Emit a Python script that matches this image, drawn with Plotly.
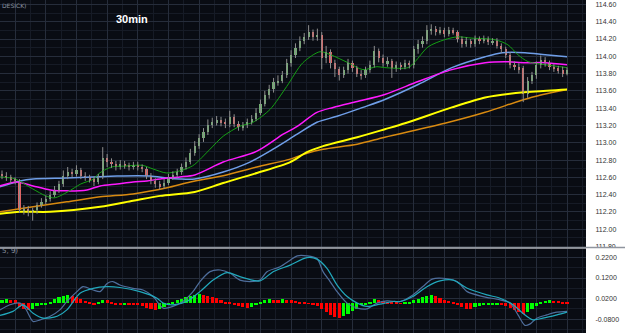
import plotly.graph_objects as go

# ---------------- data ----------------
opens = [112.64,112.62,112.60,112.57,112.56,112.22,112.24,112.20,112.22,112.28,
         112.32,112.35,112.40,112.45,112.52,112.62,112.66,112.64,112.68,112.62,
         112.60,112.58,112.55,112.60,112.82,112.78,112.76,112.72,112.75,112.74,
         112.72,112.74,112.72,112.70,112.62,112.56,112.52,112.50,112.54,112.60,
         112.63,112.66,112.72,112.78,112.88,112.96,113.05,113.12,113.20,113.24,
         113.26,113.24,113.22,113.30,113.22,113.18,113.20,113.24,113.28,113.35,
         113.45,113.55,113.62,113.70,113.72,113.78,113.92,114.02,114.10,114.18,
         114.22,114.28,114.22,114.25,113.98,114.05,113.92,113.85,113.78,113.84,
         113.92,113.86,113.80,113.78,113.84,113.90,114.06,113.98,113.92,113.94,
         113.86,113.90,113.88,113.92,113.90,114.08,114.14,114.18,114.30,114.32,
         114.28,114.30,114.26,114.30,114.28,114.20,114.14,114.18,114.14,114.20,
         114.18,114.20,114.16,114.18,114.12,114.08,114.02,113.90,113.88,113.86,
         113.56,113.72,113.78,113.90,113.96,113.92,113.88,113.86,113.84,113.80]
closes = [112.62,112.60,112.57,112.56,112.22,112.24,112.20,112.22,112.28,112.32,
          112.35,112.40,112.45,112.52,112.62,112.66,112.64,112.68,112.62,112.60,
          112.58,112.55,112.60,112.82,112.78,112.76,112.72,112.75,112.74,112.72,
          112.74,112.72,112.70,112.62,112.56,112.52,112.50,112.54,112.60,112.63,
          112.66,112.72,112.78,112.88,112.96,113.05,113.12,113.20,113.24,113.26,
          113.24,113.22,113.30,113.22,113.18,113.20,113.24,113.28,113.35,113.45,
          113.55,113.62,113.70,113.72,113.78,113.92,114.02,114.10,114.18,114.22,
          114.28,114.22,114.25,113.98,114.05,113.92,113.85,113.78,113.84,113.92,
          113.86,113.80,113.78,113.84,113.90,114.06,113.98,113.92,113.94,113.86,
          113.90,113.88,113.92,113.90,114.08,114.14,114.18,114.30,114.32,114.28,
          114.30,114.26,114.30,114.28,114.20,114.14,114.18,114.14,114.20,114.18,
          114.20,114.16,114.18,114.12,114.08,114.02,113.90,113.88,113.84,113.56,
          113.72,113.78,113.90,113.96,113.92,113.88,113.86,113.84,113.80,113.84]
highs = [112.68,112.66,112.63,112.60,112.58,112.28,112.27,112.25,112.31,112.36,
         112.39,112.44,112.50,112.56,112.68,112.72,112.70,112.74,112.71,112.66,
         112.63,112.61,112.64,112.95,112.87,112.82,112.79,112.80,112.79,112.77,
         112.78,112.78,112.75,112.72,112.65,112.59,112.56,112.58,112.64,112.67,
         112.70,112.76,112.83,112.93,113.02,113.10,113.17,113.27,113.29,113.31,
         113.30,113.28,113.37,113.33,113.25,113.24,113.28,113.32,113.40,113.50,
         113.60,113.67,113.75,113.78,113.83,113.97,114.07,114.15,114.23,114.27,
         114.36,114.31,114.32,114.28,114.12,114.08,113.96,113.88,113.88,113.97,
         113.95,113.89,113.84,113.88,113.95,114.12,114.09,114.02,113.99,113.97,
         113.94,113.93,113.96,113.95,114.12,114.19,114.23,114.36,114.37,114.35,
         114.34,114.33,114.34,114.33,114.30,114.23,114.22,114.20,114.24,114.23,
         114.24,114.23,114.21,114.21,114.15,114.11,114.05,113.94,113.92,113.89,
         113.76,113.82,113.94,114.01,113.99,113.95,113.91,113.89,113.88,113.87]
lows = [112.58,112.56,112.53,112.52,112.19,112.17,112.15,112.10,112.18,112.25,
        112.29,112.32,112.37,112.42,112.49,112.58,112.60,112.61,112.58,112.56,
        112.54,112.50,112.52,112.58,112.72,112.71,112.68,112.69,112.70,112.68,
        112.69,112.68,112.66,112.58,112.52,112.48,112.46,112.47,112.51,112.57,
        112.60,112.63,112.69,112.75,112.85,112.93,113.01,113.09,113.17,113.20,
        113.19,113.17,113.18,113.18,113.14,113.14,113.17,113.21,113.25,113.32,
        113.42,113.51,113.58,113.66,113.69,113.75,113.88,113.98,114.06,114.14,
        114.19,114.18,114.18,113.85,113.92,113.86,113.76,113.72,113.75,113.80,
        113.82,113.76,113.73,113.75,113.81,113.87,113.93,113.88,113.88,113.75,
        113.82,113.84,113.85,113.86,113.86,114.03,114.10,114.14,114.25,114.24,
        114.25,114.22,114.23,114.25,114.16,114.10,114.11,114.10,114.11,114.14,
        114.15,114.13,114.13,114.09,114.04,113.98,113.86,113.84,113.80,113.47,
        113.52,113.68,113.74,113.86,113.88,113.84,113.82,113.80,113.76,113.78]

# moving averages (x in bar index)
ma_green_x = [-0.5,3,7,10,12,15,18,21,22,25,28,32,34.5,37.5,40.5,43,44,47.5,50.5,54.3,
              57.3,61.2,65,68.7,72.6,75,79,82.4,85.6,87.4,92.7,94.3,97.3,101,104,107.3,
              112.6,115.5,117.8,120.1,124,129]
ma_green_y = [112.605,112.582,112.467,112.386,112.363,112.432,112.524,112.582,112.64,112.72,
              112.73,112.74,112.697,112.651,112.674,112.72,112.75,112.926,113.076,113.191,
              113.237,113.386,113.651,113.926,114.053,114.018,113.926,113.846,113.88,113.869,
              113.869,113.938,114.110,114.191,114.225,114.21,114.191,114.133,114.018,113.938,
              113.903,113.869]
ma_magenta_x = [-0.5,3.4,7.1,11,14.8,19.4,22.4,26.3,29.9,33.1,36.1,40.6,44,50.5,58.2,64.2,
                67.4,71.9,75.6,81.1,87.4,95,102.7,110.3,114.8,119.4,124,129]
ma_magenta_y = [112.501,112.547,112.501,112.455,112.444,112.455,112.501,112.524,112.547,112.559,
                112.582,112.605,112.628,112.777,112.903,113.099,113.191,113.352,113.409,113.478,
                113.559,113.708,113.846,113.926,113.938,113.926,113.926,113.903]
ma_blue_x = [-0.5,4.1,7.1,14.8,20.8,26.3,33.8,37.7,40.6,44,50.5,56.6,61.9,67.4,71.9,76.5,
             82.4,87.4,95,102.7,110.3,114.2,119.4,124,129]
ma_blue_y = [112.490,112.559,112.582,112.593,112.605,112.616,112.616,112.593,112.582,112.582,
             112.662,112.777,112.926,113.099,113.237,113.306,113.409,113.501,113.674,113.869,
             113.995,114.041,114.041,114.018,113.995]
ma_yellow_x = [-0.5,4.1,11,22.4,29.9,36.1,44,50.5,58.2,65.8,69.6,73.3,81.1,87.4,92,102.7,
               110.3,116.4,121.7,129]
ma_yellow_y = [112.179,112.202,112.202,112.260,112.329,112.386,112.432,112.535,112.651,112.777,
               112.892,112.961,113.064,113.156,113.225,113.409,113.524,113.570,113.593,113.616]
ma_orange_x = [-0.5,7.1,14.8,22.4,29.9,37.7,43,50.5,58.2,65.8,69.6,73.3,81.1,87.4,101.1,
               110.3,117.8,121.7,129]
ma_orange_y = [112.202,112.260,112.317,112.375,112.409,112.480,112.547,112.620,112.720,112.811,
               112.880,112.926,112.984,113.064,113.225,113.352,113.478,113.536,113.616]

# MACD histogram (one per bar)
hist = [0.018,0.020,0.018,0.015,-0.020,-0.030,-0.035,-0.030,-0.015,-0.008,
        -0.004,0.008,0.020,0.030,0.036,0.040,0.036,0.030,0.020,0.010,
        0.004,-0.006,0.004,0.018,0.016,0.008,-0.004,-0.006,-0.004,-0.006,
        -0.008,-0.010,-0.012,-0.022,-0.030,-0.034,-0.030,-0.018,-0.008,0.006,
        0.014,0.022,0.030,0.036,0.042,0.044,0.040,0.036,0.030,0.024,
        0.016,0.008,0.004,-0.004,-0.012,-0.020,-0.024,-0.016,-0.008,0.006,
        0.016,0.020,0.018,0.016,0.020,0.016,0.014,0.010,0.006,0.002,
        -0.002,-0.004,-0.012,-0.030,-0.045,-0.058,-0.066,-0.072,-0.060,-0.050,
        -0.040,-0.026,-0.010,-0.006,0.006,0.022,0.016,0.010,0.008,0.004,
        0.002,-0.002,0.002,0.006,0.016,0.022,0.030,0.036,0.040,0.034,
        0.026,0.018,0.010,0.002,-0.008,-0.018,-0.026,-0.028,-0.020,-0.014,
        -0.010,-0.006,-0.004,-0.004,-0.006,-0.014,-0.024,-0.034,-0.044,-0.050,
        -0.044,-0.030,-0.012,0.006,0.012,0.014,0.012,0.010,0.008,0.006]
macd_x = [-0.46,1.8,4.1,5.3,7.1,8.7,11.0,13.2,14.8,17.1,18.5,20.8,22.4,24.0,25.3,26.9,29.9,
          32.2,34.5,36.8,39.0,41.3,43.6,45.2,47.5,49.8,52.1,54.3,56.6,58.9,60.5,63.5,65.8,
          67.4,69.6,71.9,73.3,74.9,76.5,78.8,81.1,83.3,85.6,87.9,90.9,93.8,96.1,98.2,100.7,
          103.9,106.2,109.8,113.7,116.0,117.8,119.4,120.5,122.1,124.4,126.7,129.0]
macd_y = [-0.035,-0.010,-0.002,-0.026,-0.091,-0.083,-0.066,-0.035,0.006,0.054,0.078,0.062,
          0.054,0.094,0.103,0.086,0.070,0.062,0.030,-0.026,-0.018,0.006,0.054,0.103,0.151,
          0.159,0.143,0.110,0.103,0.110,0.151,0.175,0.207,0.228,0.228,0.215,0.151,0.103,
          0.054,-0.002,-0.026,-0.030,-0.002,0.009,0.006,0.038,0.079,0.115,0.119,0.103,0.054,
          0.030,0.014,-0.002,-0.059,-0.110,-0.104,-0.075,-0.059,-0.046,-0.042]
signal_x = [-0.46,2.5,4.8,7.1,9.4,12.6,14.8,17.8,20.8,24.0,26.9,31.5,35.4,36.8,39.0,42.2,
            45.2,48.2,51.4,54.3,58.9,61.9,65.8,69.6,71.9,74.2,76.5,78.8,81.1,83.3,86.3,89.3,
            90.9,93.8,97.0,100.0,103.0,106.2,110.7,113.7,116.7,118.9,121.2,123.5,126.7,129.0]
signal_y = [-0.062,-0.042,-0.010,-0.051,-0.075,-0.066,-0.035,0.046,0.070,0.078,0.074,0.054,
            0.022,-0.002,-0.010,0.006,0.054,0.110,0.146,0.127,0.106,0.151,0.183,0.219,0.212,
            0.167,0.086,0.030,-0.002,-0.018,-0.007,0.006,0.006,0.030,0.078,0.106,0.110,0.070,
            0.038,0.022,-0.010,-0.051,-0.083,-0.075,-0.059,-0.046]

price_ticks = [111.80,112.00,112.20,112.40,112.60,112.80,113.00,113.20,113.40,113.60,
               113.80,114.00,114.20,114.40,114.60]
macd_tickvals = [0.22, 0.12, 0.02, -0.08]
macd_ticktext = ["0.2200", "0.1200", "0.0200", "-0.0800"]
timeframe_label = "30min"

# ---------------- figure ----------------
idx = list(range(len(closes)))

wick_x, wick_y = [], []
for i, h, l in zip(idx, highs, lows):
    wick_x += [i, i, None]
    wick_y += [l, h, None]

body_base = [min(o, c) for o, c in zip(opens, closes)]
body_h = [max(abs(c - o), 0.008) for o, c in zip(opens, closes)]
body_col = ['#6fae6f' if c >= o else '#e06464' for o, c in zip(opens, closes)]

hist_col = []
prev = None
for v in hist:
    hist_col.append('#00ff00' if (prev is None or v >= prev) else '#ff0000')
    prev = v

fig = go.Figure()

def line(x, y, color, width, xa='x', ya='y'):
    fig.add_trace(go.Scatter(x=x, y=y, mode='lines',
                             line=dict(color=color, width=width, shape='spline', smoothing=0.8),
                             xaxis=xa, yaxis=ya, hoverinfo='skip', showlegend=False))

line(ma_orange_x, ma_orange_y, '#d88a10', 1.5)
line(ma_yellow_x, ma_yellow_y, '#ffff00', 2)
line(ma_blue_x, ma_blue_y, '#6f9ee8', 1.5)
line(ma_magenta_x, ma_magenta_y, '#ff1aff', 1.5)
line(ma_green_x, ma_green_y, '#15a015', 1)

fig.add_trace(go.Scatter(x=wick_x, y=wick_y, mode='lines', line=dict(color='#8e8e8e', width=1),
                         xaxis='x', yaxis='y', hoverinfo='skip', showlegend=False))
fig.add_trace(go.Bar(x=idx, y=body_h, base=body_base, marker=dict(color=body_col, line=dict(width=0)),
                     width=0.5, xaxis='x', yaxis='y', showlegend=False))

fig.add_trace(go.Bar(x=idx, y=hist, marker=dict(color=hist_col, line=dict(width=0)), width=0.72,
                     xaxis='x2', yaxis='y2', showlegend=False))
line(macd_x, macd_y, '#4f6e9c', 1.2, 'x2', 'y2')
line(signal_x, signal_y, '#22a9bd', 1.2, 'x2', 'y2')

W, H = 625, 335
plot_w = 586
top_bottom_px = 249
xr = [-0.457, 133.33]
grid_major = '#262d3b'
grid_minor = '#161b26'
tickfont = dict(family='Liberation Sans, Arial, sans-serif', size=7, color='#333333')

xcommon = dict(range=xr, showticklabels=False, showgrid=True, gridcolor=grid_major, gridwidth=1,
               tick0=3, dtick=7, zeroline=False, ticks='',
               minor=dict(showgrid=True, gridcolor=grid_minor, dtick=3.5, tick0=3))

fig.update_layout(
    width=W, height=H, margin=dict(l=0, r=W - plot_w, t=0, b=0),
    paper_bgcolor='white', plot_bgcolor='#090c13', barmode='overlay', bargap=0,
    showlegend=False,
    xaxis=dict(domain=[0, 1], anchor='y', **xcommon),
    xaxis2=dict(domain=[0, 1], anchor='y2', **xcommon),
    yaxis=dict(domain=[(H - top_bottom_px) / H, 1], range=[111.789, 114.651], side='right',
               anchor='x', tickvals=price_ticks, tickformat='.2f', tickfont=tickfont,
               ticks='outside', ticklen=7, tickcolor='white', showgrid=True,
               gridcolor=grid_major, zeroline=False,
               minor=dict(showgrid=True, gridcolor=grid_minor, dtick=0.1, tick0=0)),
    yaxis2=dict(domain=[0, (H - top_bottom_px - 1) / H], range=[-0.1471, 0.2635], side='right',
                anchor='x2', tickvals=macd_tickvals, ticktext=macd_ticktext, tickfont=tickfont,
                ticks='outside', ticklen=7, tickcolor='white', showgrid=True,
                gridcolor=grid_major, zeroline=False,
                minor=dict(showgrid=True, gridcolor=grid_minor, dtick=0.05, tick0=0.02)),
)

sep_y = (H - top_bottom_px) / H
fig.add_shape(type='rect', xref='paper', yref='paper', x0=1, x1=W / plot_w, y0=sep_y - 4 / H,
              y1=sep_y, fillcolor='white', line=dict(width=0), layer='above')
fig.add_shape(type='line', xref='paper', yref='paper', x0=0, x1=W / plot_w, y0=sep_y, y1=sep_y,
              line=dict(color='#8f959e', width=1.5), layer='above')

fig.add_annotation(text='<b>' + timeframe_label + '</b>', xref='paper', yref='paper',
                   x=132 / plot_w, y=1 - 19 / H, xanchor='center', yanchor='middle', showarrow=False,
                   font=dict(family='Liberation Sans Narrow, Liberation Sans, Arial', size=11, color='white'))
fig.add_annotation(text='DESICK)', xref='paper', yref='paper', x=0, y=1, xanchor='left',
                   yanchor='top', showarrow=False,
                   font=dict(family='DejaVu Sans', size=6, color='#8a93a0'))
fig.add_annotation(text='5, 9)', xref='paper', yref='paper', x=0, y=(H - 253) / H, xanchor='left',
                   yanchor='middle', showarrow=False,
                   font=dict(family='DejaVu Sans', size=7, color='#8a93a0'))

fig.write_html('out.html')
